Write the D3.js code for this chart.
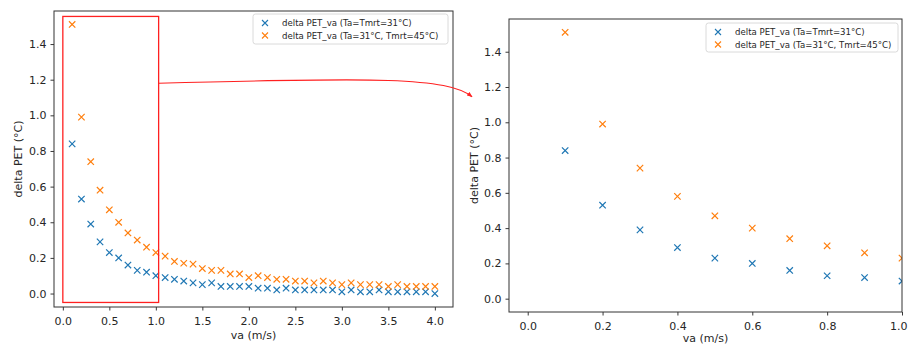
<!DOCTYPE html>
<html><head><meta charset="utf-8">
<script src="https://cdn.jsdelivr.net/npm/d3@7"></script>
<style>
html,body{margin:0;padding:0;background:#fff;}
svg{display:block;font-family:"DejaVu Sans",sans-serif;}
</style></head>
<body><svg id="c" width="908" height="345"></svg>
<script>
const va = [0.1,0.2,0.3,0.4,0.5,0.6,0.7,0.8,0.9,1.0,1.1,1.2,1.3,1.4,1.5,1.6,1.7,1.8,1.9,2.0,2.1,2.2,2.3,2.4,2.5,2.6,2.7,2.8,2.9,3.0,3.1,3.2,3.3,3.4,3.5,3.6,3.7,3.8,3.9,4.0];
const petA = [0.84,0.53,0.39,0.29,0.23,0.20,0.16,0.13,0.12,0.10,0.09,0.08,0.07,0.06,0.05,0.06,0.04,0.04,0.04,0.04,0.03,0.03,0.02,0.03,0.02,0.02,0.02,0.02,0.02,0.01,0.02,0.01,0.01,0.02,0.01,0.01,0.01,0.01,0.01,0.00];
const petB = [1.51,0.99,0.74,0.58,0.47,0.40,0.34,0.30,0.26,0.23,0.21,0.18,0.17,0.165,0.14,0.13,0.13,0.11,0.11,0.09,0.10,0.09,0.08,0.08,0.07,0.07,0.06,0.07,0.06,0.05,0.06,0.05,0.05,0.05,0.04,0.05,0.04,0.04,0.04,0.04];
const seriesNames = ["delta PET_va (Ta=Tmrt=31°C)","delta PET_va (Ta=31°C, Tmrt=45°C)"];
const seriesColors = ["#1f77b4","#ff7f0e"];
const xTicksLeft = [0.0,0.5,1.0,1.5,2.0,2.5,3.0,3.5,4.0];
const xTicksRight = [0.0,0.2,0.4,0.6,0.8,1.0];
const yTicks = [0.0,0.2,0.4,0.6,0.8,1.0,1.2,1.4];
const xLabel = "va (m/s)";
const yLabel = "delta PET (°C)";
const zoomRect = {x0:0, x1:1.03, y0:-0.05, y1:1.555};

const svg = d3.select("#c");
const series = [petA, petB];

function panel(opt){
  const {L,R,T,B,xdom,xticks,id,legend} = opt;
  const x = d3.scaleLinear().domain(xdom).range([L,R]);
  const y = d3.scaleLinear().domain([-0.0755,1.5855]).range([B,T]);
  const g = svg.append("g");
  g.append("clipPath").attr("id",id).append("rect")
    .attr("x",L).attr("y",T).attr("width",R-L).attr("height",B-T);
  const pts = g.append("g").attr("clip-path",`url(#${id})`);
  series.forEach((s,si)=>{
    const data = va.map((v,i)=>({x:v,y:s[i]})).filter(d=>d.x<=xdom[1]+0.05);
    const r=3.2;
    pts.selectAll(null).data(data).enter().append("path")
      .attr("d",d=>{const cx=x(d.x),cy=y(d.y);return `M${cx-r},${cy-r}L${cx+r},${cy+r}M${cx-r},${cy+r}L${cx+r},${cy-r}`;})
      .attr("stroke",seriesColors[si]).attr("stroke-width",1.2).attr("fill","none");
  });
  const xa = g.append("g").attr("transform",`translate(0,${B})`)
    .call(d3.axisBottom(x).tickValues(xticks).tickFormat(d3.format(".1f")).tickSize(3.5).tickSizeOuter(0));
  const ya = g.append("g").attr("transform",`translate(${L},0)`)
    .call(d3.axisLeft(y).tickValues(yTicks).tickFormat(d3.format(".1f")).tickSize(3.5).tickSizeOuter(0));
  [xa,ya].forEach(a=>{
    a.select(".domain").remove();
    a.selectAll("line").attr("stroke","#222").attr("stroke-width",0.9);
    a.selectAll("text").attr("font-size",11).attr("fill","#262626").attr("font-family","DejaVu Sans");
  });
  xa.selectAll("text").attr("dy","1.05em");
  // keep a tick label that would run past the page edge inside it
  xa.selectAll(".tick").each(function(d){
    const px = x(d);
    if (px + 9 > 908) d3.select(this).select("text").attr("text-anchor","end").attr("x", 907 - px);
  });
  ya.selectAll("text").attr("dx","-0.1em");
  g.append("rect").attr("x",L).attr("y",T).attr("width",R-L).attr("height",B-T)
    .attr("fill","none").attr("stroke","#333").attr("stroke-width",1);
  g.append("text").attr("x",(L+R)/2).attr("y",opt.xlabY).attr("text-anchor","middle")
    .attr("font-size",11).attr("fill","#262626").text(xLabel);
  g.append("text").attr("transform",`translate(${opt.ylabX},${(T+B)/2}) rotate(-90)`)
    .attr("text-anchor","middle").attr("dominant-baseline","central")
    .attr("font-size",11).attr("fill","#262626").text(yLabel);
  const lg = g.append("g");
  lg.append("rect").attr("x",legend.x).attr("y",legend.y).attr("width",legend.w).attr("height",legend.h)
    .attr("rx",2.5).attr("fill","#fff").attr("fill-opacity",0.85).attr("stroke","#d6d6d6").attr("stroke-width",0.9);
  seriesNames.forEach((n,i)=>{
    const cy = legend.y + 9 + i*12.5, cx = legend.x + 12, r=3;
    lg.append("path").attr("d",`M${cx-r},${cy-r}L${cx+r},${cy+r}M${cx-r},${cy+r}L${cx+r},${cy-r}`)
      .attr("stroke",seriesColors[i]).attr("stroke-width",1.1);
    lg.append("text").attr("x",legend.x+29).attr("y",cy).attr("dominant-baseline","central")
      .attr("font-size",8.6).attr("fill","#262626").text(n);
  });
  return {x,y};
}

const left = panel({L:54,R:453,T:11,B:307,xdom:[-0.095,4.195],xticks:xTicksLeft,id:"clipL",
  xlabY:339,ylabX:18,legend:{x:253,y:14,w:195,h:30}});
const right = panel({L:509,R:902,T:19,B:312,xdom:[-0.05,1.0],xticks:xTicksRight,id:"clipR",
  xlabY:341.5,ylabX:474,legend:{x:706,y:23,w:192,h:29}});

svg.append("rect")
  .attr("x",left.x(zoomRect.x0)).attr("y",left.y(zoomRect.y1))
  .attr("width",left.x(zoomRect.x1)-left.x(zoomRect.x0))
  .attr("height",left.y(zoomRect.y0)-left.y(zoomRect.y1))
  .attr("fill","none").attr("stroke","#ff2020").attr("stroke-width",1.3);

const sx = left.x(zoomRect.x1), sy = left.y(1.18);
const ex = right.x(-0.05)-37, ey = right.y(1.145);
svg.append("defs").append("marker").attr("id","ah").attr("viewBox","0 0 10 10")
  .attr("refX",9).attr("refY",5).attr("markerWidth",5).attr("markerHeight",5).attr("orient","auto")
  .append("path").attr("d","M0,1L10,5L0,9z").attr("fill","#ff2020");
svg.append("path")
  .attr("d",`M${sx},${sy} C${sx+220},${sy-6} ${ex-25},${sy-6} ${ex},${ey}`)
  .attr("fill","none").attr("stroke","#ff2020").attr("stroke-width",1.1).attr("marker-end","url(#ah)");
</script></body></html>
